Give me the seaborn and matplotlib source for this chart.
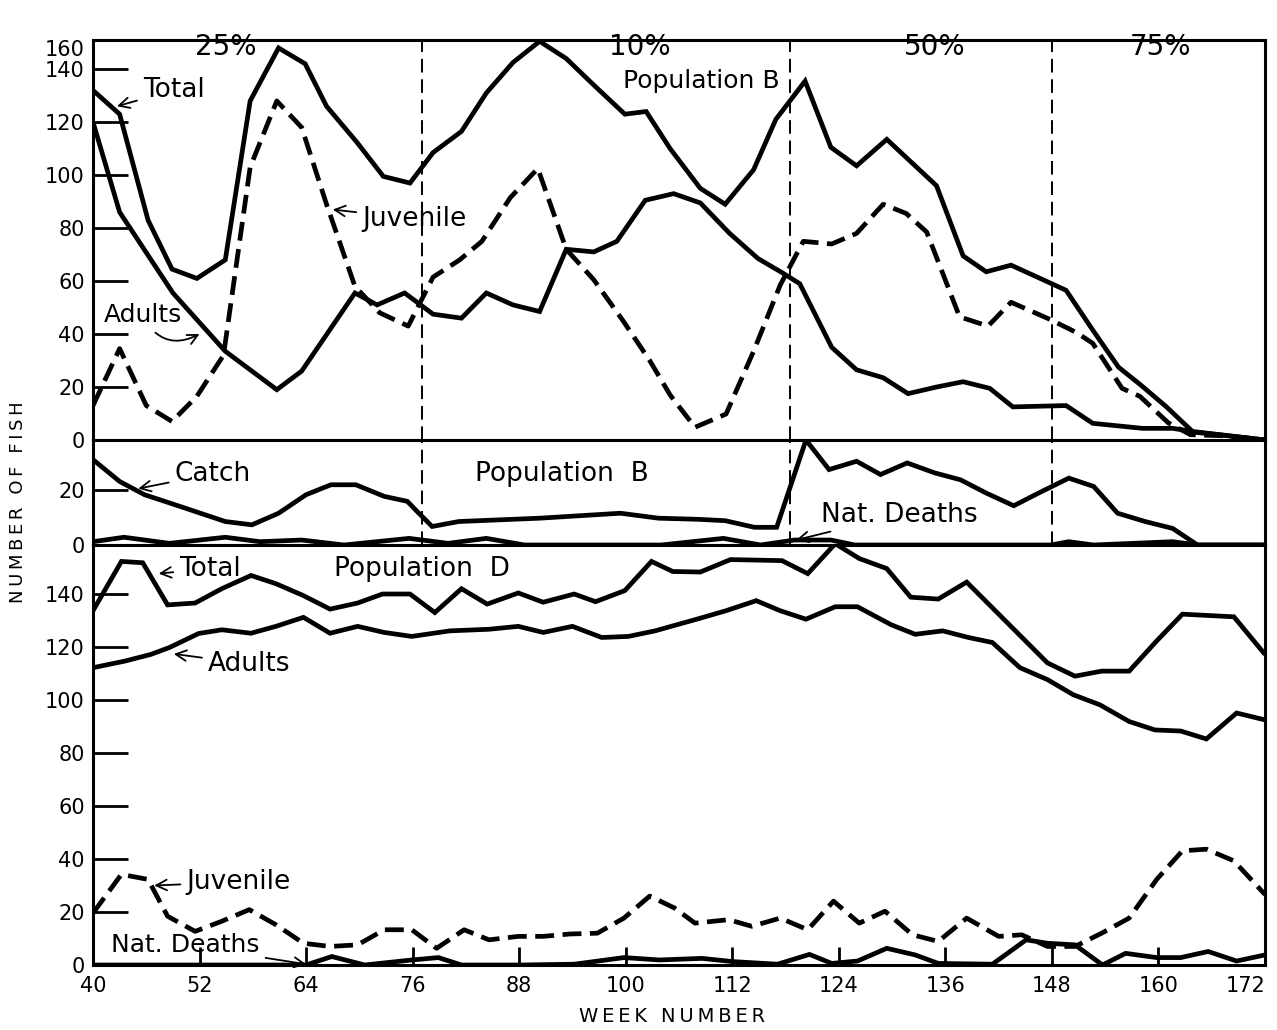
import matplotlib
matplotlib.use("Agg")
import matplotlib.pyplot as plt
import seaborn as sns

sns.set_style("ticks")
plt.rcParams['font.family'] = ['DejaVu Sans']
plt.rcParams.update({'text.color': 'black', 'axes.labelcolor': 'black',
                     'xtick.color': 'black', 'ytick.color': 'black',
                     'axes.edgecolor': 'black'})

# ---- Population B (top panel) ----
b_total_wk = [40, 43, 46.2, 48.9, 51.7, 54.9, 57.7, 60.9, 63.9, 66.3, 69.7, 72.7, 75.7, 78.3, 81.5,
              84.3, 87.3, 90.3, 93.3, 96.4, 99.9, 102.3, 105, 108.4, 111.2, 114.4, 116.9, 120.2,
              123.1, 126, 129.4, 135, 138, 140.6, 143.4, 147, 149.6, 152.6, 155.5, 158.1, 160.9,
              163.9, 167.3, 170.5, 172]
b_total = [132, 123, 83, 64.5, 61, 68, 128, 148, 142, 126, 112.5, 99.5, 97, 108.5, 116.5,
           131, 142.5, 150.5, 144, 134, 123, 124, 110, 95, 89, 102, 121, 135.5,
           110.5, 103.5, 113.5, 96, 69.5, 63.5, 66, 60.5, 56.5, 41.5, 27.5, 20.5, 12.5,
           3, 1.8, 0.6, 0]

b_adult_wk = [40, 43, 49, 54.9, 60.7, 63.5, 69.5, 72, 75.1, 78.3, 81.5, 84.3, 87.3, 90.3, 93.3,
              96.4, 99, 102.2, 105.4, 108.4, 111.7, 114.9, 117.7, 119.6, 123.2, 126, 129, 131.8,
              135, 138, 141, 143.6, 149.6, 152.6, 158.2, 161.6, 163.9, 170.5, 172]
b_adult = [120, 86, 55.5, 33.5, 19, 26, 55.5, 51, 55.5, 47.5, 46, 55.5, 51, 48.5, 72,
           71, 75, 90.5, 93, 89.5, 78, 68.5, 63, 59, 35, 26.5, 23.5, 17.5,
           20, 22, 19.5, 12.5, 13, 6.3, 4.4, 4.4, 3.2, 0.6, 0]

b_juv_wk = [40, 43, 46, 48.9, 51.7, 54.7, 57.7, 60.7, 63.5, 66.3, 69.5, 72.3, 75.5, 78.3, 81.3,
            83.8, 87, 90.1, 93.3, 96.4, 99.7, 102.7, 105, 107.8, 111.3, 114.4, 117.4, 120, 123.2,
            126, 129, 131.6, 133.9, 137.6, 140.8, 143.4, 147.8, 150.8, 152.6, 155.9, 157.9,
            161.1, 163.6, 167.3, 172]
b_juv = [13, 34.5, 13, 7, 16.5, 32, 103, 128, 118, 89, 58, 48, 43, 61.5, 68,
         75, 91.5, 102.5, 72, 60.5, 45, 30, 17, 4.8, 9.8, 33.5, 58.5, 75, 74,
         78, 89, 85.5, 78.5, 46.5, 43, 52, 45.5, 40.5, 36.5, 19.5, 16.5,
         6.5, 2, 1.6, 0]

# ---- Population B catch / natural deaths (middle panel) ----
catch_wk = [40, 43, 45.8, 49.3, 54.9, 57.9, 60.9, 64, 66.8, 69.6, 72.8, 75.4, 76.7, 78.2, 81.2,
            90.3, 99.4, 103.7, 108.1, 111.2, 114.5, 117, 120.3, 122.9, 126, 128.7, 131.7,
            134.8, 137.7, 140.6, 143.7, 146.5, 149.9, 152.7, 155.4, 158.5, 161.6, 164.4, 172]
catch = [30.9, 23, 18.2, 14.5, 8.5, 7.3, 11.5, 18.2, 21.8, 21.8, 17.6, 15.8, 11.5, 6.7, 8.5,
         9.7, 11.5, 9.7, 9.3, 8.8, 6.4, 6.4, 38, 27.3, 30.3, 25.5, 29.7,
         26.1, 23.6, 18.8, 14.2, 18.8, 24.2, 21.2, 11.5, 8.5, 6, 0, 0]

b_dead_wk = [40, 43.5, 48.6, 54.9, 58.8, 63.5, 68.3, 75.6, 80, 84.3, 88.6, 104, 111, 115.2,
             119, 123.1, 125.8, 147.9, 149.9, 152.7, 161.6, 164.4, 172]
b_dead = [1.2, 2.8, 0.6, 2.8, 1.2, 1.8, 0, 2.4, 0.6, 2.4, 0, 0, 2.4, 0,
          1.8, 1.8, 0, 0, 1.2, 0, 1.2, 0, 0]

# ---- Population D (bottom panel) ----
d_total_wk = [40, 43.2, 45.6, 48.4, 51.5, 54.5, 57.8, 60.6, 63.7, 66.7, 69.8, 72.6, 75.7, 78.5,
              81.5, 84.4, 87.9, 90.7, 94.2, 96.6, 99.9, 102.9, 105.3, 108.4, 111.8, 117.6, 120.5,
              123.6, 126.3, 129.4, 132.1, 135.2, 138.4, 147.5, 150.6, 153.6, 156.7, 159.8,
              162.7, 168.5, 172]
d_total = [133.7, 152.3, 151.8, 135.9, 136.6, 142, 147, 143.9, 139.4, 134.3, 136.6, 140, 140, 133,
           142, 136.2, 140.4, 136.9, 140, 137.1, 141.3, 152.3, 148.5, 148.3, 153, 152.6, 147.7,
           159, 153.4, 149.6, 138.8, 138.1, 144.5, 114, 109, 110.9, 110.9, 122.3,
           132.4, 131.4, 117.2]

d_adult_wk = [40, 43.6, 46.5, 48.6, 51.9, 54.5, 57.8, 60.6, 63.7, 66.7, 69.8, 72.8, 75.9, 80.2,
              84.6, 87.9, 90.7, 94, 97.3, 100.3, 103.3, 108, 111.3, 114.7, 117.4, 120.3, 123.6,
              126.1, 129.9, 132.6, 135.7, 138.6, 141.3, 144.4, 147.5, 150.4, 153.4, 156.7,
              159.6, 162.5, 165.4, 168.8, 172]
d_adult = [112.2, 114.7, 117.2, 119.8, 125.1, 126.5, 125.2, 127.8, 131.2, 125.2, 127.8, 125.5, 124,
           126.1, 126.7, 127.8, 125.5, 127.8, 123.6, 124, 126.1, 130.5, 133.7, 137.5, 133.7, 130.5,
           135.2, 135.2, 128.4, 124.8, 126.1, 123.6, 121.7, 112.2, 107.7, 102, 98.2, 91.9,
           88.7, 88.3, 85.3, 95.1, 92.5]

d_juv_wk = [40, 43.2, 46.2, 48.4, 51.5, 54.5, 57.6, 60.6, 63.7, 66.7, 69.8, 72.8, 75.9, 78.7,
            81.8, 84.6, 87.9, 90.7, 93.7, 96.8, 99.8, 102.7, 105.5, 107.8, 111.6, 114.2, 117.4,
            120.5, 123.4, 126.3, 129.2, 132.3, 135.2, 138.4, 142, 144.6, 147.5, 150.6, 153.6,
            156.7, 159.8, 162.7, 165.4, 168.5, 172]
d_juv = [19.6, 34.2, 32.3, 18.4, 12.7, 16.5, 20.9, 15.2, 8.2, 7, 7.6, 13.3, 13.3, 6.3,
         13.3, 9.5, 10.8, 10.8, 11.7, 12, 17.7, 26, 21.5, 15.8, 17.1, 14.6, 17.7,
         13.3, 24.1, 15.8, 20.3, 11.4, 8.9, 17.7, 10.8, 11.4, 7, 7, 12,
         17.7, 32.3, 43.1, 43.7, 39.3, 26.6]

d_dead_wk = [40, 64, 66.9, 70.6, 75.9, 78.9, 81.5, 88.1, 94.2, 99.8, 103.8, 108.6, 112, 117.1,
             120.7, 123.2, 126.1, 129.4, 132.6, 135.2, 141.3, 145.1, 147.5, 150.6, 153.7,
             156.3, 159.8, 162.5, 165.6, 168.8, 172]
d_dead = [0, 0, 3.2, 0, 1.9, 2.8, 0, 0, 0.3, 2.8, 1.9, 2.5, 1.3, 0.3,
          4, 0.6, 1.5, 6.3, 3.8, 0.6, 0.3, 9.5, 8.2, 7.6, 0,
          4.4, 2.8, 2.8, 5.1, 1.5, 3.8]

harvest_breaks = [77, 118.5, 148]
harvest_rates = ["25%", "10%", "50%", "75%"]
rate_wk = [55, 101.6, 134.8, 160.2]
week_ticks = list(range(40, 173, 12))

LW = 3.4
DASH = (0, (4, 1.8))


def spaced(s):
    return "\u2009".join(s)


fig = plt.figure(figsize=(12.77, 10.30), dpi=100)


def box(top, bottom):
    return [93 / 1277, 1 - bottom / 1030, (1265 - 93) / 1277, (bottom - top) / 1030]


ax_top = fig.add_axes(box(40, 440))
ax_mid = fig.add_axes(box(440, 545))
ax_bot = fig.add_axes(box(545, 965))


def line(ax, x, y, dashed=False):
    kw = dict(linestyle=DASH) if dashed else {}
    sns.lineplot(x=x, y=y, ax=ax, color='black', lw=LW, legend=False,
                 solid_joinstyle='miter', solid_capstyle='butt', **kw)


line(ax_top, b_total_wk, b_total)
line(ax_top, b_adult_wk, b_adult)
line(ax_top, b_juv_wk, b_juv, dashed=True)

line(ax_mid, catch_wk, catch)
line(ax_mid, b_dead_wk, b_dead)

line(ax_bot, d_total_wk, d_total)
line(ax_bot, d_adult_wk, d_adult)
line(ax_bot, d_juv_wk, d_juv, dashed=True)
line(ax_bot, d_dead_wk, d_dead)

for ax in (ax_top, ax_mid):
    for wk in harvest_breaks:
        ax.axvline(wk, color='black', lw=1.4, linestyle=(0, (7, 3.5)))

for ax in (ax_top, ax_mid, ax_bot):
    ax.set_xlim(40, 172)
    ax.set_xlabel("")
    ax.set_ylabel("")
    for sp in ax.spines.values():
        sp.set_linewidth(2.2)
        sp.set_visible(True)
    ax.tick_params(axis='y', direction='in', length=25, width=2, labelsize=15, pad=6)

ax_top.set_ylim(0, 151)
ax_top.set_yticks([0, 20, 40, 60, 80, 100, 120, 140, 151])
ax_top.set_yticklabels(["0", "20", "40", "60", "80", "100", "120", "140", "160"])
ax_top.get_yticklabels()[-1].set_va('top')
ax_mid.set_ylim(0, 38)
ax_mid.set_yticks([0, 20])
ax_bot.set_ylim(0, 158.5)
ax_bot.set_yticks([0, 20, 40, 60, 80, 100, 120, 140])

for ax in (ax_top, ax_mid):
    ax.tick_params(axis='x', bottom=False, labelbottom=False)
ax_bot.set_xticks(week_ticks)
ax_bot.tick_params(axis='x', direction='in', length=13, width=2, labelsize=15, pad=8)
ax_bot.get_xticklabels()[-1].set_ha('right')

# harvest rate labels
for lab, wk in zip(harvest_rates, rate_wk):
    ax_top.text(wk, 148.5, lab, fontsize=20, ha='center', va='center')

arrow = dict(arrowstyle='->', lw=1.3, color='black', shrinkA=2, shrinkB=0)

ax_top.annotate("Total", xy=(42.7, 126), xytext=(49.1, 132), fontsize=19,
                ha='center', va='center', arrowprops=arrow)
ax_top.annotate("Juvenile", xy=(67, 87), xytext=(76.2, 83.5), fontsize=19,
                ha='center', va='center', arrowprops=arrow)
ax_top.annotate("Adults", xy=(52, 40), xytext=(45.6, 47), fontsize=18,
                ha='center', va='center',
                arrowprops=dict(arrow, connectionstyle="arc3,rad=0.5"))
ax_top.text(108.5, 135.5, "Population B", fontsize=18, ha='center', va='center')

ax_mid.annotate("Catch", xy=(45.1, 20.4), xytext=(53.5, 25.8), fontsize=19,
                ha='center', va='center', arrowprops=arrow)
ax_mid.text(92.8, 25.8, "Population  B", fontsize=19, ha='center', va='center')
ax_mid.annotate("Nat. Deaths", xy=(119.2, 1.8), xytext=(130.8, 11), fontsize=19,
                ha='center', va='center', arrowprops=arrow)

ax_bot.annotate("Total", xy=(47.4, 147.7), xytext=(53.2, 149.6), fontsize=19,
                ha='center', va='center', arrowprops=arrow)
ax_bot.text(77.1, 149.6, "Population  D", fontsize=19, ha='center', va='center')
ax_bot.annotate("Adults", xy=(49.1, 117.4), xytext=(57.6, 113.6), fontsize=19,
                ha='center', va='center', arrowprops=arrow)
ax_bot.annotate("Juvenile", xy=(46.9, 30), xytext=(56.4, 31.3), fontsize=19,
                ha='center', va='center', arrowprops=arrow)
ax_bot.annotate("Nat. Deaths", xy=(64, 0.3), xytext=(50.4, 7.4), fontsize=18,
                ha='center', va='center', arrowprops=arrow)

fig.text(18 / 1277, 1 - 502 / 1030, spaced("NUMBER OF FISH"), rotation=90,
         ha='center', va='center', fontsize=13)
fig.text(672 / 1277, 1 - 1017 / 1030, spaced("WEEK NUMBER"),
         ha='center', va='center', fontsize=14)

fig.savefig("out.png", dpi=100, facecolor='white')
